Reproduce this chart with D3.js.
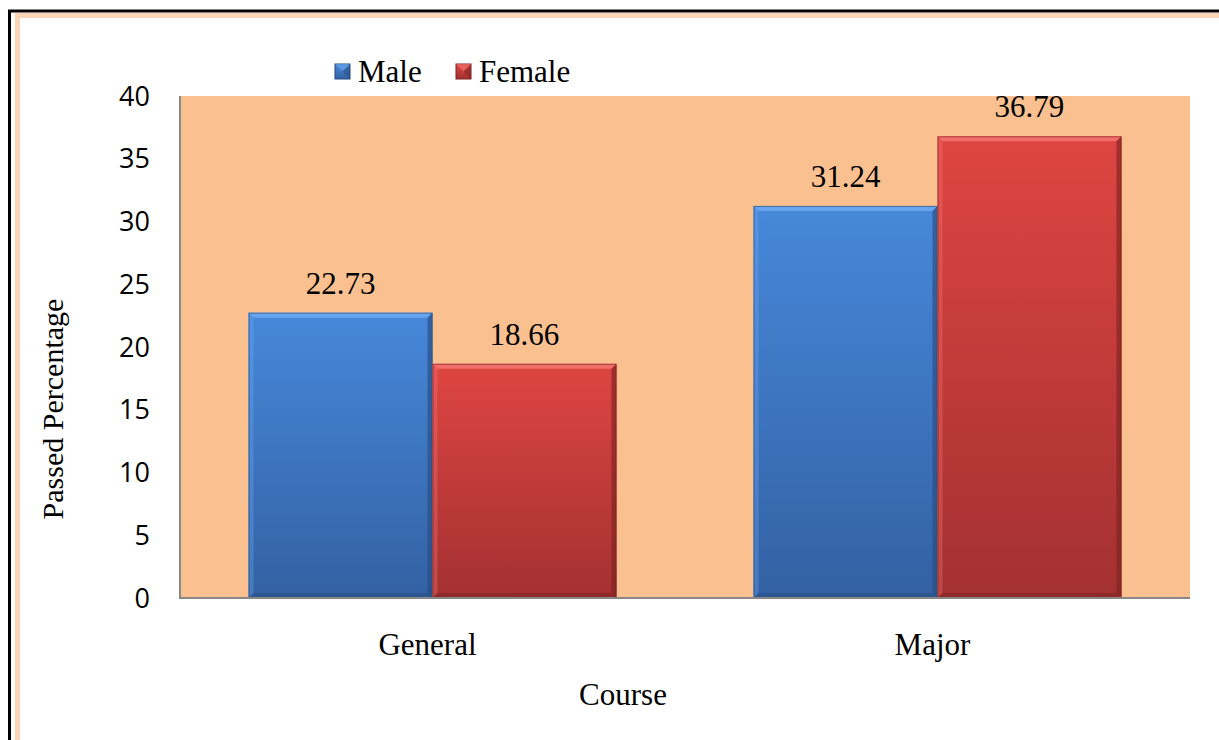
<!DOCTYPE html>
<html>
<head>
<meta charset="utf-8">
<script src="https://cdn.jsdelivr.net/npm/d3@7"></script>
<style>
  body { margin: 0; background: #fff; }
</style>
</head>
<body>
<div id="chart"></div>
<script>
// data
var courses = ["General", "Major"];
var genders = ["Male", "Female"];
var male = [22.73, 31.24];
var female = [18.66, 36.79];
var yTicks = [0, 5, 10, 15, 20, 25, 30, 35, 40];

var W = 1219, H = 740;
var plot = { left: 180, right: 1190, top: 96, bottom: 598 };

var svg = d3.select("#chart")
  .append("svg")
  .attr("width", W)
  .attr("height", H)
  .attr("xmlns", "http://www.w3.org/2000/svg");

var defs = svg.append("defs");

var palette = {
  Male: { top: "#4788da", bottom: "#3361a3", light: "#6eaaf0", dark: "#27497c" },
  Female: { top: "#de4542", bottom: "#a33131", light: "#f57673", dark: "#7a2222" }
};

genders.forEach(function(g) {
  var grad = defs.append("linearGradient")
    .attr("id", "grad-" + g)
    .attr("x1", 0).attr("y1", 0).attr("x2", 0).attr("y2", 1);
  grad.append("stop").attr("offset", "0%").attr("stop-color", palette[g].top);
  grad.append("stop").attr("offset", "100%").attr("stop-color", palette[g].bottom);
});

// page frame
svg.append("rect")
  .attr("x", 9.5).attr("y", 11)
  .attr("width", W + 20).attr("height", H + 20)
  .attr("fill", "none")
  .attr("stroke", "#000")
  .attr("stroke-width", 3);
svg.append("rect")
  .attr("x", 17.5).attr("y", 15.5)
  .attr("width", W + 20).attr("height", H + 20)
  .attr("fill", "none")
  .attr("stroke", "#fbd6b6")
  .attr("stroke-width", 5);

// scales
var x0 = d3.scaleBand()
  .domain(courses)
  .range([plot.left, plot.right]);

var bw = x0.bandwidth();
var x1 = d3.scaleBand()
  .domain(genders)
  .range([bw * 0.1357, bw * 0.8643]);

var y = d3.scaleLinear()
  .domain([0, 40])
  .range([plot.bottom, plot.top]);

// plot background
svg.append("rect")
  .attr("x", plot.left).attr("y", plot.top)
  .attr("width", plot.right - plot.left)
  .attr("height", plot.bottom - plot.top)
  .attr("fill", "#fac090");

// bars
var rows = [];
courses.forEach(function(c, i) {
  rows.push({ course: c, gender: "Male", value: male[i] });
  rows.push({ course: c, gender: "Female", value: female[i] });
});

var bev = 5;
var bars = svg.append("g").selectAll("g.bar")
  .data(rows)
  .enter()
  .append("g")
  .attr("class", "bar");

bars.each(function(d) {
  var g = d3.select(this);
  var bx = x0(d.course) + x1(d.gender);
  var w = x1.bandwidth();
  var by = y(d.value);
  var h = y(0) - by;
  var col = palette[d.gender];

  g.append("rect")
    .attr("x", bx).attr("y", by)
    .attr("width", w).attr("height", h)
    .attr("fill", "url(#grad-" + d.gender + ")");

  // bevel edges
  g.append("polygon")
    .attr("points", [[bx, by], [bx + w, by], [bx + w - bev, by + bev], [bx + bev, by + bev]].join(" "))
    .attr("fill", col.light).attr("opacity", 0.85);
  g.append("polygon")
    .attr("points", [[bx, by], [bx + bev, by + bev], [bx + bev, by + h - bev], [bx, by + h]].join(" "))
    .attr("fill", col.light).attr("opacity", 0.35);
  g.append("polygon")
    .attr("points", [[bx + w, by], [bx + w, by + h], [bx + w - bev, by + h - bev], [bx + w - bev, by + bev]].join(" "))
    .attr("fill", col.dark).attr("opacity", 0.6);
  g.append("polygon")
    .attr("points", [[bx, by + h], [bx + w, by + h], [bx + w - bev, by + h - bev], [bx + bev, by + h - bev]].join(" "))
    .attr("fill", col.dark).attr("opacity", 0.45);
  g.append("rect")
    .attr("x", bx + 0.5).attr("y", by + 0.5)
    .attr("width", w - 1).attr("height", h - 1)
    .attr("fill", "none")
    .attr("stroke", col.dark)
    .attr("stroke-opacity", 0.6);

  g.append("text")
    .attr("x", bx + w / 2)
    .attr("y", by - 19)
    .attr("text-anchor", "middle")
    .attr("font-family", "'Liberation Serif', 'Times New Roman', serif")
    .attr("font-size", 31)
    .attr("fill", "#000")
    .text(d.value.toFixed(2));
});

// axes lines
svg.append("line")
  .attr("x1", plot.left).attr("x2", plot.left)
  .attr("y1", plot.top).attr("y2", plot.bottom)
  .attr("stroke", "#888").attr("stroke-width", 2);
svg.append("line")
  .attr("x1", plot.left - 1).attr("x2", plot.right)
  .attr("y1", plot.bottom).attr("y2", plot.bottom)
  .attr("stroke", "#888").attr("stroke-width", 2);

// y tick labels
svg.append("g").selectAll("text")
  .data(yTicks)
  .enter()
  .append("text")
  .attr("x", 150)
  .attr("y", function(d) { return y(d); })
  .attr("dy", "0.36em")
  .attr("text-anchor", "end")
  .attr("font-family", "'Open Sans', sans-serif")
  .attr("font-size", 27)
  .attr("fill", "#000")
  .text(function(d) { return d; });

// x category labels
svg.append("g").selectAll("text")
  .data(courses)
  .enter()
  .append("text")
  .attr("x", function(d) { return x0(d) + bw / 2 - 5; })
  .attr("y", 655)
  .attr("text-anchor", "middle")
  .attr("font-family", "'Liberation Serif', 'Times New Roman', serif")
  .attr("font-size", 31)
  .attr("fill", "#000")
  .text(function(d) { return d; });

// axis titles
svg.append("text")
  .attr("x", 623).attr("y", 705)
  .attr("text-anchor", "middle")
  .attr("font-family", "'Liberation Serif', 'Times New Roman', serif")
  .attr("font-size", 31)
  .text("Course");

svg.append("text")
  .attr("transform", "translate(63,409) rotate(-90)")
  .attr("text-anchor", "middle")
  .attr("font-family", "'Liberation Serif', 'Times New Roman', serif")
  .attr("font-size", 30)
  .text("Passed Percentage");

// legend
var legendX = [335, 456];
var legend = svg.append("g").selectAll("g")
  .data(genders)
  .enter()
  .append("g")
  .attr("transform", function(d, i) { return "translate(" + legendX[i] + ",64)"; });

legend.append("rect")
  .attr("width", 15).attr("height", 15)
  .attr("fill", function(d) { return "url(#grad-" + d + ")"; })
  .attr("stroke", function(d) { return palette[d].dark; })
  .attr("stroke-width", 1);
legend.append("polygon")
  .attr("points", "0,0 15,0 7.5,7.5")
  .attr("fill", function(d) { return palette[d].light; })
  .attr("opacity", 0.6);
legend.append("polygon")
  .attr("points", "15,0 15,15 7.5,7.5")
  .attr("fill", function(d) { return palette[d].dark; })
  .attr("opacity", 0.5);
legend.append("text")
  .attr("x", 23)
  .attr("y", 18)
  .attr("font-family", "'Liberation Serif', 'Times New Roman', serif")
  .attr("font-size", 31)
  .text(function(d) { return d; });
</script>
</body>
</html>
